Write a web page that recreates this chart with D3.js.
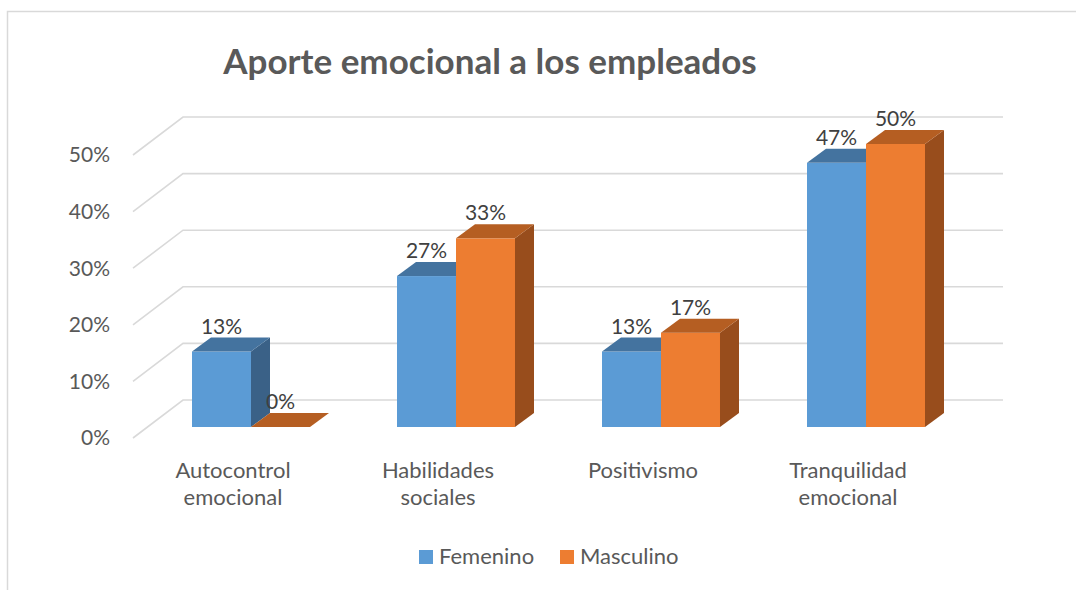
<!DOCTYPE html>
<html>
<head>
<meta charset="utf-8">
<script src="https://cdn.jsdelivr.net/npm/d3@7"></script>
<style>
  body { margin: 0; background: #fff; }
  text { font-family: Lato, "Open Sans", sans-serif; }
</style>
</head>
<body>
<svg id="chart" width="1076" height="590"></svg>
<script>
// data
const categories = [["Autocontrol", "emocional"], ["Habilidades", "sociales"], ["Positivismo"], ["Tranquilidad", "emocional"]];
const seriesNames = ["Femenino", "Masculino"];
const femenino = [2/15, 4/15, 2/15, 7/15];
const masculino = [0, 2/6, 1/6, 3/6];
const ticks = [0, 0.1, 0.2, 0.3, 0.4, 0.5];

const colors = {
  Femenino: { front: "#5b9bd5", top: "#44739f", side: "#3a6187" },
  Masculino: { front: "#ed7d31", top: "#b55e22", side: "#984d1c" }
};

const svg = d3.select("#chart");

// chart border (only top / left visible)
svg.append("path")
  .attr("d", "M7.5,590 L7.5,11.5 L1076,11.5")
  .attr("fill", "none")
  .attr("stroke", "#d9d9d9")
  .attr("stroke-width", 1.5);

// 3d offsets
var dx = 19, dy = 14;       // bar depth
var wallDy = 38;            // floor depth to the back wall
var frontDy = 27;           // bar front plane to the back wall

var y = d3.scaleLinear().domain([0, 0.5]).range([427, 427 - 283]);

var keys = categories.map(function(c) { return c.join(" "); });
var x0 = d3.scaleBand().domain(keys).range([105, 1012]).padding(0.4244);
var x1 = d3.scaleBand().domain(seriesNames).range([0, x0.bandwidth()]);

// gridlines on back wall + left wall
var grid = svg.append("g");
ticks.forEach(function(t) {
  var yb = y(t) - frontDy;
  grid.append("path")
    .attr("d", "M133," + (yb + wallDy) + " L183," + yb + " L1003," + yb)
    .attr("fill", "none")
    .attr("stroke", "#d9d9d9")
    .attr("stroke-width", 1.6);
  grid.append("text")
    .attr("x", 110)
    .attr("y", yb + wallDy + 2)
    .attr("text-anchor", "end")
    .attr("dominant-baseline", "middle")
    .attr("fill", "#595959")
    .style("font-size", "21px")
    .text(d3.format(".0%")(t));
});

// bars
var data = [];
keys.forEach(function(k, i) {
  data.push({ cat: k, series: "Femenino", value: femenino[i] });
  data.push({ cat: k, series: "Masculino", value: masculino[i] });
});

var bars = svg.append("g").selectAll("g")
  .data(data)
  .join("g");

bars.each(function(d) {
  var g = d3.select(this);
  var xl = x0(d.cat) + x1(d.series);
  var w = x1.bandwidth();
  var yt = y(d.value), yb = y(0);
  var c = colors[d.series];
  if (yb - yt > 0.5) {
    g.append("rect")
      .attr("x", xl).attr("y", yt)
      .attr("width", w).attr("height", yb - yt)
      .attr("fill", c.front);
    g.append("path")
      .attr("d", "M" + (xl + w) + "," + yt + " L" + (xl + w + dx) + "," + (yt - dy) +
        " L" + (xl + w + dx) + "," + (yb - dy) + " L" + (xl + w) + "," + yb + "Z")
      .attr("fill", c.side);
  }
  g.append("path")
    .attr("d", "M" + xl + "," + yt + " L" + (xl + dx) + "," + (yt - dy) +
      " L" + (xl + w + dx) + "," + (yt - dy) + " L" + (xl + w) + "," + yt + "Z")
    .attr("fill", c.top);
});

// data labels
svg.append("g").selectAll("text")
  .data(data)
  .join("text")
  .attr("x", function(d) { return x0(d.cat) + x1(d.series) + x1.bandwidth() / 2; })
  .attr("y", function(d) { return y(d.value) - 18; })
  .attr("text-anchor", "middle")
  .attr("fill", "#404040")
  .style("font-size", "21px")
  .text(function(d) { return d3.format(".0%")(d.value); });

// category labels
svg.append("g").selectAll("text")
  .data(categories)
  .join("text")
  .attr("x", function(d, i) { return x0(keys[i]) + x0.bandwidth() / 2 - 18; })
  .attr("y", 478)
  .attr("text-anchor", "middle")
  .attr("fill", "#595959")
  .style("font-size", "22px")
  .selectAll("tspan")
  .data(function(d) { return d; })
  .join("tspan")
  .attr("x", function() { return d3.select(this.parentNode).attr("x"); })
  .attr("dy", function(d, i) { return i ? 27 : 0; })
  .text(function(d) { return d; });

// title
svg.append("text")
  .attr("x", 490)
  .attr("y", 74)
  .attr("text-anchor", "middle")
  .attr("fill", "#595959")
  .style("font-size", "35px")
  .style("font-weight", "bold")
  .text("Aporte emocional a los empleados");

// legend
var legend = svg.append("g").selectAll("g")
  .data(seriesNames)
  .join("g")
  .attr("transform", function(d, i) { return "translate(" + (419 + i * 141) + ",550)"; });
legend.append("rect")
  .attr("width", 14).attr("height", 14)
  .attr("fill", function(d) { return colors[d].front; });
legend.append("text")
  .attr("x", 20)
  .attr("y", 14)
  .attr("fill", "#595959")
  .style("font-size", "22px")
  .text(function(d) { return d; });
</script>
</body>
</html>
